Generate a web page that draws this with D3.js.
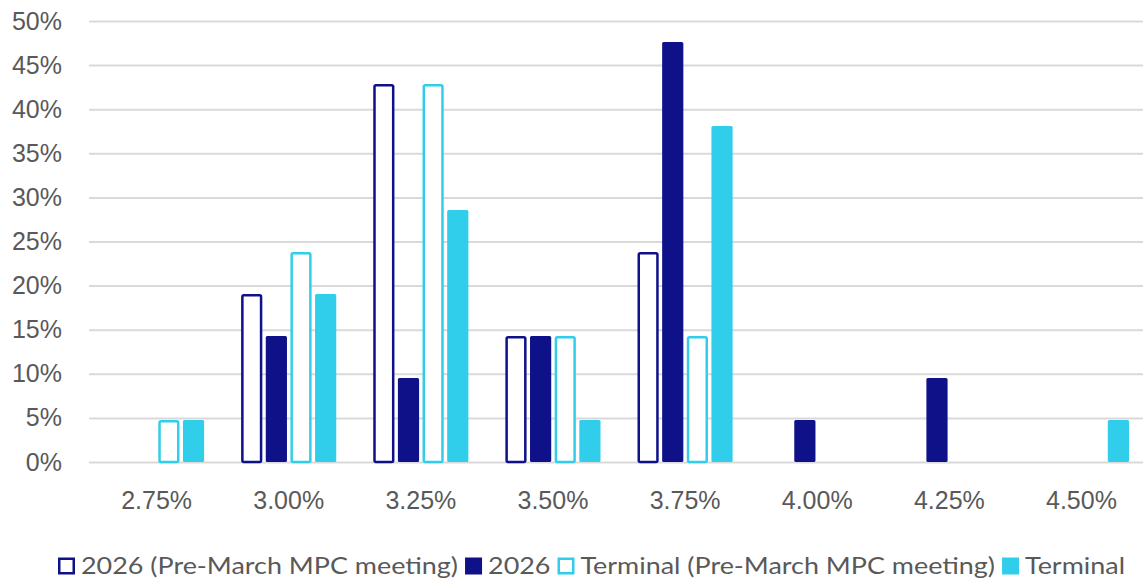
<!DOCTYPE html>
<html><head><meta charset="utf-8">
<script src="https://cdn.jsdelivr.net/npm/d3@7"></script>
<style>html,body{margin:0;padding:0;background:#fff;overflow:hidden}</style>
</head><body>
<svg id="chart" width="1143" height="580"></svg>
<script>
const categories = ["2.75%","3.00%","3.25%","3.50%","3.75%","4.00%","4.25%","4.50%"];
const seriesNames = ["2026 (Pre-March MPC meeting)","2026","Terminal (Pre-March MPC meeting)","Terminal"];
const pre2026 =      [0,    19.05, 42.86, 14.29, 23.81, 0,    0,    0];
const y2026 =        [0,    14.29,  9.52, 14.29, 47.62, 4.76, 9.52, 0];
const preTerminal =  [4.76, 23.81, 42.86, 14.29, 14.29, 0,    0,    0];
const terminal =     [4.76, 19.05, 28.57,  4.76, 38.10, 0,    0,    4.76];
const yTicks = [0,5,10,15,20,25,30,35,40,45,50];

const seriesValues = [pre2026, y2026, preTerminal, terminal];
const colors = ["#0E1187","#0E1187","#31CEEB","#31CEEB"];
const filled = [false,true,false,true];

const svg = d3.select("#chart");
const mLeft = 89, mRight = 1146, mTop = 21, mBottom = 462;
const font = "'Liberation Sans', Arial, sans-serif";

const y = d3.scaleLinear().domain([0,50]).range([mBottom, mTop]);
const x0 = d3.scaleBand().domain(categories).range([mLeft+1.5, mRight+1.5]).paddingInner(0.28).paddingOuter(0.14);
const x1 = d3.scaleBand().domain(d3.range(4)).range([0, x0.bandwidth()]).paddingInner(0.14);

// gridlines
const yAxis = d3.axisLeft(y).tickValues(yTicks).tickSize(-(1143-mLeft)).tickFormat(d => d + "%").tickPadding(27);
const gY = svg.append("g").attr("transform", `translate(${mLeft},0)`).call(yAxis);
gY.select(".domain").remove();
gY.selectAll(".tick line").attr("stroke","#D9D9D9").attr("stroke-width",2);
gY.selectAll(".tick text").attr("fill","#595959").attr("font-family",font).attr("font-size",25);

// bars
const data = [];
categories.forEach((c,i) => seriesValues.forEach((vals,s) => { if (vals[i] > 0) data.push({c, s, v: vals[i]}); }));
const sw = 2.5;
svg.append("g").selectAll("rect").data(data).join("rect")
  .attr("x", d => x0(d.c) + x1(d.s) + (filled[d.s] ? 0 : sw/2))
  .attr("width", d => x1.bandwidth() - (filled[d.s] ? 0 : sw))
  .attr("y", d => y(d.v) + (filled[d.s] ? 0 : sw/2))
  .attr("height", d => y(0) - y(d.v) - (filled[d.s] ? 0 : sw/2))
  .attr("rx", 1.5)
  .attr("fill", d => filled[d.s] ? colors[d.s] : "#fff")
  .attr("stroke", d => filled[d.s] ? "none" : colors[d.s])
  .attr("stroke-width", sw);

// x axis labels
const xAxis = d3.axisBottom(x0).tickSize(0).tickPadding(29);
const gX = svg.append("g").attr("transform", `translate(0,${mBottom})`).call(xAxis);
gX.select(".domain").remove();
gX.selectAll(".tick text").attr("fill","#595959").attr("font-family",font).attr("font-size",25);

// legend
const lg = svg.append("g");
const lfont = "Lato, 'Liberation Sans', sans-serif";
const sq = 17, gapSq = 6, gapItem = 7;
const targetWidth = 1067;
// first pass: measure natural widths
const texts = seriesNames.map(name => {
  const t = lg.append("text").attr("font-family",lfont).attr("font-size",23).text(name);
  const w = t.node().getComputedTextLength(); t.remove(); return w;
});
const fixed = seriesNames.length*(sq+gapSq) + (seriesNames.length-1)*gapItem;
const k = (targetWidth - fixed) / d3.sum(texts);
let cx = 0;
seriesNames.forEach((name,s) => {
  const g = lg.append("g");
  if (filled[s]) g.append("rect").attr("x",cx).attr("y",-sq/2).attr("width",sq).attr("height",sq).attr("fill",colors[s]);
  else g.append("rect").attr("x",cx+1.25).attr("y",-sq/2+1.25).attr("width",sq-2.5).attr("height",sq-2.5).attr("fill","#fff").attr("stroke",colors[s]).attr("stroke-width",2.5);
  const w = texts[s]*k;
  g.append("text").attr("x",cx+sq+gapSq).attr("y",0).attr("dy","0.35em")
    .attr("fill","#595959").attr("font-family",lfont).attr("font-size",23)
    .attr("textLength",w).attr("lengthAdjust","spacingAndGlyphs").text(name);
  cx += sq + gapSq + w + gapItem;
});
lg.attr("transform", `translate(58,566)`);
</script>
</body></html>
